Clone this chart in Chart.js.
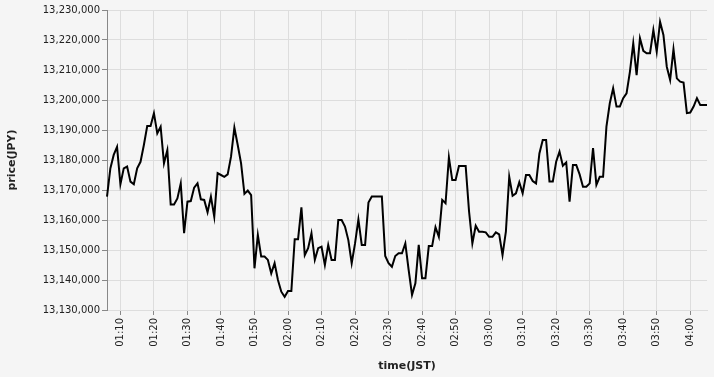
<!DOCTYPE html>
<html><head><meta charset="utf-8">
<script src="https://cdn.jsdelivr.net/npm/chart.js@4"></script>
<style>html,body{margin:0;padding:0;background:#f5f5f5;} canvas{display:block;background:#f5f5f5;}</style>
</head><body>
<canvas id="c" width="714" height="377"></canvas>
<script>
const times = [
"01:06","01:07","01:08","01:09","01:10","01:11","01:12","01:13","01:14","01:15","01:16","01:17","01:18","01:19",
"01:20","01:21","01:22","01:23","01:24","01:25","01:26","01:27","01:28","01:29",
"01:30","01:31","01:32","01:33","01:34","01:35","01:36","01:37","01:38","01:39",
"01:40","01:41","01:42","01:43","01:44","01:45","01:46","01:47","01:48","01:49",
"01:50","01:51","01:52","01:53","01:54","01:55","01:56","01:57","01:58","01:59",
"02:00","02:01","02:02","02:03","02:04","02:05","02:06","02:07","02:08","02:09",
"02:10","02:11","02:12","02:13","02:14","02:15","02:16","02:17","02:18","02:19",
"02:20","02:21","02:22","02:23","02:24","02:25","02:26","02:27","02:28","02:29",
"02:30","02:31","02:32","02:33","02:34","02:35","02:36","02:37","02:38","02:39",
"02:40","02:41","02:42","02:43","02:44","02:45","02:46","02:47","02:48","02:49",
"02:50","02:51","02:52","02:53","02:54","02:55","02:56","02:57","02:58","02:59",
"03:00","03:01","03:02","03:03","03:04","03:05","03:06","03:07","03:08","03:09",
"03:10","03:11","03:12","03:13","03:14","03:15","03:16","03:17","03:18","03:19",
"03:20","03:21","03:22","03:23","03:24","03:25","03:26","03:27","03:28","03:29",
"03:30","03:31","03:32","03:33","03:34","03:35","03:36","03:37","03:38","03:39",
"03:40","03:41","03:42","03:43","03:44","03:45","03:46","03:47","03:48","03:49",
"03:50","03:51","03:52","03:53","03:54","03:55","03:56","03:57","03:58","03:59",
"04:00","04:01","04:02","04:03","04:04","04:05"
];
const prices = [
13167800,13177200,13181700,13184400,13171900,13177200,13177800,13172800,13171900,13177200,
13179400,13185000,13191300,13191300,13195600,13188900,13191100,13178900,13183300,13165200,
13165200,13167200,13172200,13155600,13166100,13166300,13170800,13172200,13166900,13166700,
13162600,13167800,13161100,13175600,13175000,13174400,13175200,13181100,13190800,13185000,
13178900,13168700,13169800,13168300,13143900,13155000,13147800,13147800,13146700,13142200,
13145600,13140000,13136100,13134400,13136300,13136300,13153600,13153600,13164200,13148300,
13150600,13155600,13146700,13150600,13151100,13145000,13151700,13146700,13146700,13160000,
13160000,13157800,13153300,13145600,13152200,13160200,13151700,13151700,13165800,13167800,
13167800,13167800,13167800,13148000,13145600,13144400,13148000,13148900,13148900,13152200,
13143300,13135000,13138900,13151700,13140600,13140600,13151300,13151300,13157600,13154400,
13166700,13165600,13180900,13173300,13173300,13178000,13178000,13178000,13163000,13152200,
13158100,13156100,13156100,13155900,13154400,13154400,13155900,13155200,13148300,13156100,
13174400,13168100,13168900,13172600,13168900,13175000,13175000,13173000,13172200,13182200,
13186700,13186700,13172800,13172800,13179400,13182800,13178100,13179200,13166100,13178300,
13178300,13175200,13171100,13171100,13172200,13184000,13171700,13174400,13174400,13191100,
13198900,13203900,13197800,13197800,13200600,13202200,13209400,13218900,13208300,13220600,
13216400,13215600,13215600,13223300,13216100,13226100,13221700,13211100,13206700,13216900,
13207200,13206100,13205800,13195600,13195800,13197800,13200600,13198300,13198300,13198300
];
const yMin = 13130000, yMax = 13230000, yStep = 10000;
const xTitle = "time(JST)", yTitle = "price(JPY)";

const isMajor = i => times[i] !== undefined && times[i].endsWith("0");

Chart.defaults.font.family = "'DejaVu Sans', sans-serif";

new Chart(document.getElementById("c"), {
  type: "line",
  data: {
    labels: times,
    datasets: [{
      data: prices,
      borderColor: "#000",
      borderWidth: 2,
      pointRadius: 0,
      tension: 0,
      fill: false
    }]
  },
  options: {
    responsive: false,
    animation: false,
    devicePixelRatio: 1,
    layout: { padding: { top: 10, right: 7, left: 0, bottom: 0 } },
    plugins: { legend: { display: false }, tooltip: { enabled: false } },
    scales: {
      x: {
        type: "category",
        offset: false,
        grid: {
          color: ctx => isMajor(ctx.index) ? "#dddddd" : "rgba(0,0,0,0)",
          tickColor: ctx => isMajor(ctx.index) ? "#888888" : "rgba(0,0,0,0)",
          tickLength: 5
        },
        border: { color: "#dddddd" },
        ticks: {
          autoSkip: false, maxRotation: 90, minRotation: 90, padding: 3,
          font: { size: 10 }, color: "#222",
          callback: (v, i) => isMajor(i) ? times[i] : ""
        },
        title: { display: true, text: xTitle, font: { size: 11, weight: "bold" }, color: "#222", padding: { top: 0, bottom: 4 } },
        afterFit: s => { s.height = 67; s.paddingLeft = 0; s.paddingRight = 0; }
      },
      y: {
        min: yMin, max: yMax,
        ticks: {
          stepSize: yStep, font: { size: 10 }, color: "#222", padding: 2,
          callback: v => v.toLocaleString("en-US")
        },
        grid: { color: "#dddddd", tickColor: "#888888", tickLength: 5 },
        border: { color: "#888888" },
        title: { display: true, text: yTitle, font: { size: 11, weight: "bold" }, color: "#222", padding: { top: 6, bottom: 0 } },
        afterFit: s => { s.width = 107; s.paddingTop = 0; s.paddingBottom = 0; }
      }
    }
  }
});
</script>
</body></html>
